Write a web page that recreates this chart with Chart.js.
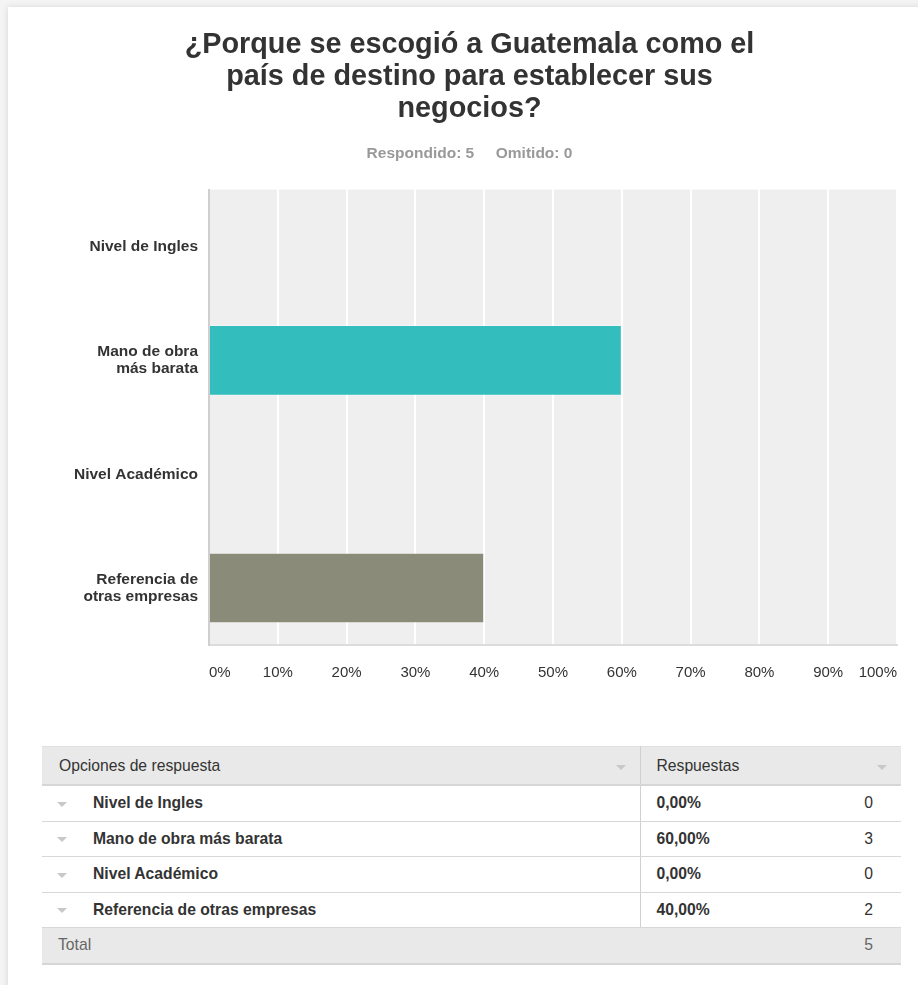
<!DOCTYPE html>
<html lang="es">
<head>
<meta charset="utf-8">
<title>¿Porque se escogió a Guatemala?</title>
<script src="https://cdn.jsdelivr.net/npm/chart.js@4/dist/chart.umd.min.js"></script>
<style>
  html, body {
    margin: 0;
    padding: 0;
    background: #f4f4f4;
    font-family: "Liberation Sans", Arial, sans-serif;
  }
  .card {
    position: absolute;
    left: 8px;
    top: 7px;
    width: 930px;
    height: 1000px;
    background: #fff;
    box-shadow: 0 0 6px rgba(0, 0, 0, 0.12);
  }
  .chart-box {
    position: absolute;
    left: 42px;
    top: 29px;
    width: 859px;
    height: 661px;
  }
  table {
    position: absolute;
    left: 42px;
    top: 746px;
    width: 859px;
    table-layout: fixed;
    border-collapse: collapse;
    font-size: 15.7px;
    color: #333;
  }
  td, th {
    height: 34.5px;
    padding: 0;
    border-top: 1px solid #d8d8d8;
    border-bottom: 1px solid #d8d8d8;
    text-align: left;
    font-weight: normal;
    white-space: nowrap;
  }
  thead th {
    height: 37px;
    background: #e9e9e9;
    border-top: 1px solid #e0e0e0;
    border-bottom: 2px solid #d6d6d6;
  }
  .col-opt { border-right: 1px solid #d0d0d0; }
  th.col-opt { padding-left: 17px; position: relative; }
  th.col-resp { padding-left: 16px; position: relative; }
  .caret {
    display: inline-block;
    width: 0;
    height: 0;
    border-left: 5px solid transparent;
    border-right: 5px solid transparent;
    border-top: 5px solid #c8c8c8;
    vertical-align: middle;
  }
  th .caret { position: absolute; right: 14px; top: 18px; }
  td.opt { font-weight: bold; }
  td.opt .caret { margin-left: 15px; margin-right: 26px; }
  td.pct { font-weight: bold; padding-left: 16px; }
  td.cnt { text-align: right; padding-right: 28px; }
  tr.total td {
    background: #e9e9e9;
    color: #666;
    border-bottom: 2px solid #d6d6d6;
  }
  tr.total td.tlabel { padding-left: 16px; }
</style>
</head>
<body>
<div class="card"></div>
<div class="chart-box"><canvas id="surveyChart"></canvas></div>
<table id="answers">
  <colgroup>
    <col style="width: 598px">
    <col style="width: 160px">
    <col>
  </colgroup>
  <thead>
    <tr>
      <th class="col-opt">Opciones de respuesta<span class="caret"></span></th>
      <th class="col-resp" colspan="2">Respuestas<span class="caret"></span></th>
    </tr>
  </thead>
  <tbody></tbody>
</table>

<script>
const titleLines = ["¿Porque se escogió a Guatemala como el", "país de destino para establecer sus", "negocios?"];
const answered = 5;
const skipped = 0;

const optionLabels = [
  "Nivel de Ingles",
  ["Mano de obra", "más barata"],
  "Nivel Académico",
  ["Referencia de", "otras empresas"],
];
const optionNames = ["Nivel de Ingles", "Mano de obra más barata", "Nivel Académico", "Referencia de otras empresas"];
const percentages = [0, 60, 0, 40];
const responseCounts = [0, 3, 0, 2];
const barColors = ["#33bdbd", "#33bdbd", "#8a8b79", "#8a8b79"];
const xTicks = [0, 10, 20, 30, 40, 50, 60, 70, 80, 90, 100];

const FONT = "'Liberation Sans', Arial, sans-serif";

// grey plot background behind the bars
const plotBackground = {
  id: "plotBackground",
  beforeDraw(chart) {
    const { ctx, chartArea } = chart;
    ctx.save();
    ctx.fillStyle = "#efefef";
    ctx.fillRect(chartArea.left, chartArea.top, chartArea.right - chartArea.left, chartArea.bottom - chartArea.top);
    ctx.restore();
  },
};

const ctx = document.getElementById("surveyChart");

new Chart(ctx, {
  type: "bar",
  data: {
    labels: optionLabels,
    datasets: [
      {
        data: percentages,
        backgroundColor: barColors,
        borderColor: "rgba(255, 255, 255, 0.35)",
        borderWidth: 1,
        barPercentage: 0.62,
        categoryPercentage: 1,
      },
    ],
  },
  plugins: [plotBackground],
  options: {
    indexAxis: "y",
    responsive: true,
    maintainAspectRatio: false,
    animation: false,
    layout: { padding: { left: 0, right: 4, top: 0, bottom: 0 } },
    plugins: {
      legend: { display: false },
      tooltip: { enabled: false },
      title: {
        display: true,
        text: titleLines,
        color: "#333",
        font: { family: FONT, size: 28.8, weight: "bold", lineHeight: 1.111 },
        padding: { top: 0, bottom: 19 },
      },
      subtitle: {
        display: true,
        text: `Respondido: ${answered}     Omitido: ${skipped}`,
        color: "#999",
        font: { family: FONT, size: 15.5, weight: "bold" },
        padding: { top: 0, bottom: 27 },
      },
    },
    scales: {
      x: {
        min: 0,
        max: 100,
        afterBuildTicks: (scale) => {
          scale.ticks = xTicks.map((v) => ({ value: v }));
        },
        afterFit: (scale) => {
          scale.height = 45;
          scale.paddingLeft = 0;
          scale.paddingRight = 0;
        },
        grid: {
          color: (c) => (c.index === 0 ? "#cfcfcf" : "#ffffff"),
          lineWidth: 2,
          drawTicks: false,
        },
        border: { display: true, color: "#dcdcdc", width: 2 },
        ticks: {
          align: "inner",
          padding: 19,
          color: "#333",
          font: { family: FONT, size: 15 },
          callback: (v) => v + "%",
        },
      },
      y: {
        afterFit: (scale) => {
          scale.width = 167;
        },
        grid: { display: false, drawTicks: false },
        border: { display: true, color: "#cfcfcf", width: 2 },
        ticks: {
          padding: 11,
          color: "#333",
          font: { family: FONT, size: 15.5, weight: "bold", lineHeight: 1.1 },
        },
      },
    },
  },
});

// answers table under the chart
const tbody = document.querySelector("#answers tbody");
optionNames.forEach((name, i) => {
  const tr = document.createElement("tr");
  tr.innerHTML =
    `<td class="col-opt opt"><span class="caret"></span>${name}</td>` +
    `<td class="pct">${percentages[i].toFixed(2).replace(".", ",")}%</td>` +
    `<td class="cnt">${responseCounts[i]}</td>`;
  tbody.appendChild(tr);
});
const totalRow = document.createElement("tr");
totalRow.className = "total";
totalRow.innerHTML =
  `<td class="tlabel" colspan="2">Total</td>` +
  `<td class="cnt">${responseCounts.reduce((a, b) => a + b, 0)}</td>`;
tbody.appendChild(totalRow);
</script>
</body>
</html>
